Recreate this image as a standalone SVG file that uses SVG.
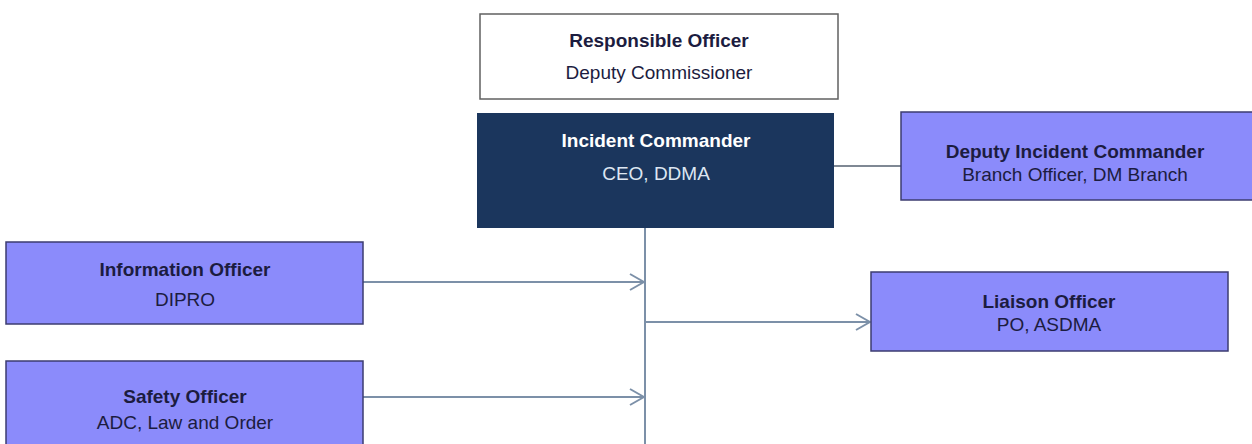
<svg xmlns="http://www.w3.org/2000/svg" width="1252" height="444" viewBox="0 0 1252 444">
<defs>
<style>
.box{fill:#8b8bfb;stroke:#3c3c70;stroke-width:1.5}
.t{font-family:"Liberation Sans",Arial,sans-serif;font-size:19px;text-anchor:middle;fill:#1c1c40}
.b{font-weight:bold}
.w{fill:#ffffff}
.conn{stroke:#7c90a8;stroke-width:2;fill:none}
</style>
<marker id="arr" viewBox="0 0 16 20" refX="15" refY="10" markerWidth="16" markerHeight="20" markerUnits="userSpaceOnUse" orient="auto">
<path d="M1,2 L15,10 L1,18" fill="none" stroke="#7c90a8" stroke-width="2"/>
</marker>
</defs>
<rect width="1252" height="444" fill="#ffffff"/>
<g id="connectors">
<line class="conn" x1="645" y1="228" x2="645" y2="444"/>
<line class="conn" x1="834" y1="166" x2="901" y2="166" style="stroke:#556070;stroke-width:1.5"/>
<line class="conn" x1="363" y1="282" x2="644" y2="282" marker-end="url(#arr)"/>
<line class="conn" x1="363" y1="397" x2="644" y2="397" marker-end="url(#arr)"/>
<line class="conn" x1="645" y1="322" x2="870" y2="322" marker-end="url(#arr)"/>
</g>
<g id="responsible">
<rect x="480" y="14" width="358" height="85" fill="#ffffff" stroke="#606060" stroke-width="1.5"/>
<text class="t b" x="659" y="47">Responsible Officer</text>
<text class="t" x="659" y="79">Deputy Commissioner</text>
</g>
<g id="incident">
<rect x="477" y="113" width="357" height="115" fill="#1b365d"/>
<text class="t b w" x="656" y="147">Incident Commander</text>
<text class="t" x="656" y="180" style="fill:#dde6f2">CEO, DDMA</text>
</g>
<g id="deputy">
<rect class="box" x="901" y="112" width="352" height="88"/>
<text class="t b" x="1075" y="158">Deputy Incident Commander</text>
<text class="t" x="1075" y="181">Branch Officer, DM Branch</text>
</g>
<g id="information">
<rect class="box" x="6" y="242" width="357" height="82"/>
<text class="t b" x="185" y="276">Information Officer</text>
<text class="t" x="185" y="306">DIPRO</text>
</g>
<g id="safety">
<rect class="box" x="6" y="361" width="357" height="84"/>
<text class="t b" x="185" y="403">Safety Officer</text>
<text class="t" x="185" y="429">ADC, Law and Order</text>
</g>
<g id="liaison">
<rect class="box" x="871" y="272" width="357" height="79"/>
<text class="t b" x="1049" y="308">Liaison Officer</text>
<text class="t" x="1049" y="331">PO, ASDMA</text>
</g>
</svg>
